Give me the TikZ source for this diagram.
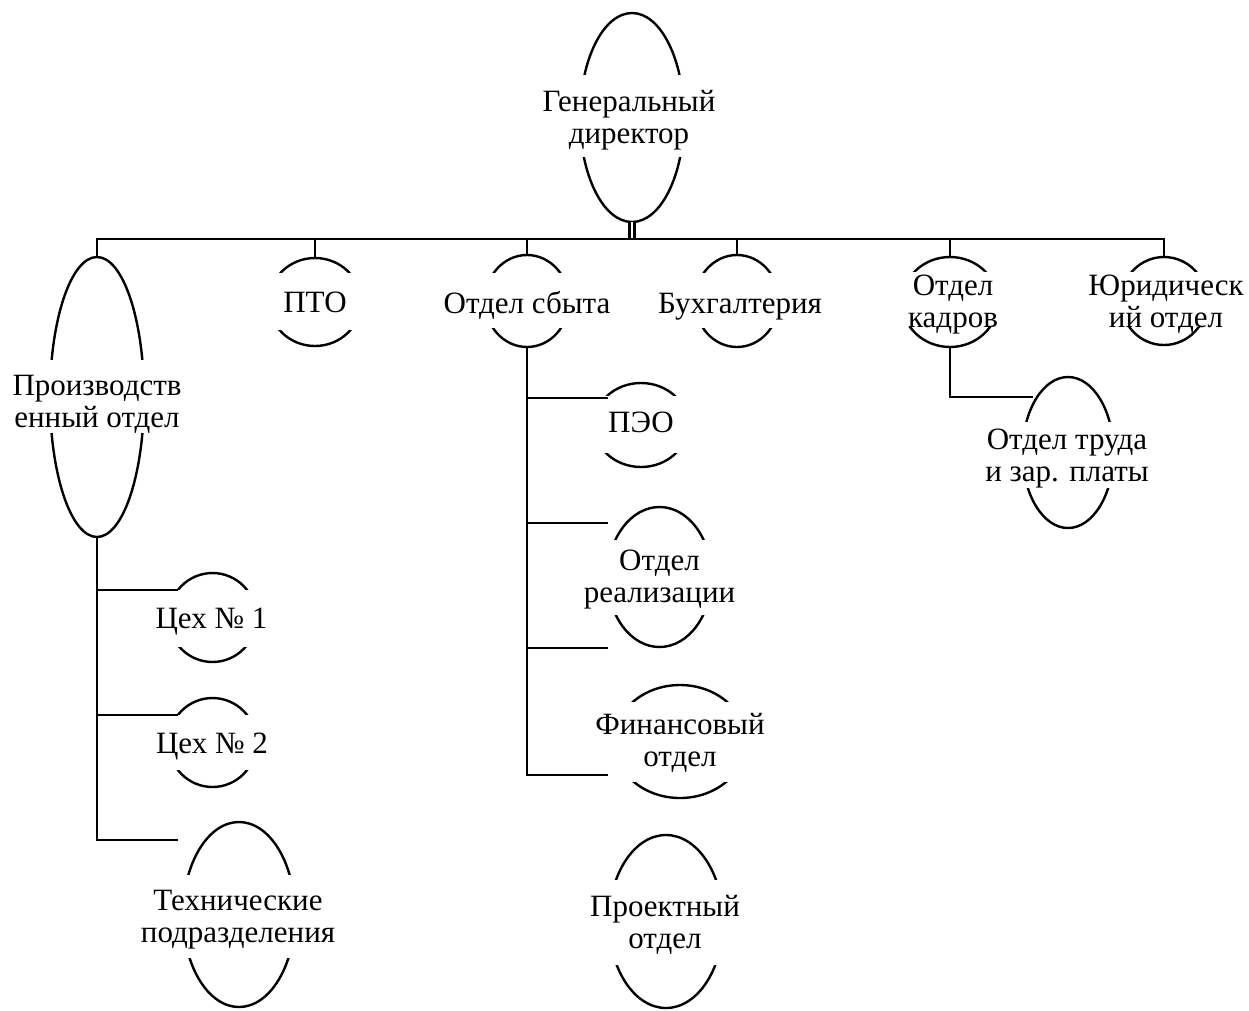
\documentclass[tikz,border=0pt]{standalone}
\usepackage{fontspec}
\setmainfont{Liberation Serif}
\usetikzlibrary{shapes.geometric}
\tikzset{
  oval/.style={draw, ellipse, line width=2.4pt, inner sep=0pt, outer sep=0pt},
  band/.style={fill=white, inner sep=0pt, outer sep=0pt},
  lbl/.style={align=center, inner sep=0pt, font=\fontsize{31}{32}\selectfont},
  conn/.style={line width=2.8pt},
}
% #1 name, #2 cx, #3 cy, #4 rx, #5 ry, #6 band top, #7 band bottom, #8 text centre, #9 text
\newcommand\orgunit[9]{%
  \node[oval, minimum width={2*#4}, minimum height={2*#5}] (#1) at (#2,#3) {};
  \node[band, minimum width={2*#4+8}, minimum height={#7-#6}] (#1-b) at (#2,{(#6+#7)/2}) {};
  \node[lbl] (#1-t) at (#8) {#9};
}
\begin{document}
\begin{tikzpicture}[x=1pt,y=-1pt]
\useasboundingbox[fill=white] (0,0) rectangle (1249,1010);

\orgunit{gen}{632}{117.5}{52}{104.5}{75}{157}{629,120.6}{\strut Генеральный\\\strut директор}
\orgunit{prod}{97}{397}{47}{140}{360}{433}{97,404.6}{\strut Производств\\\strut енный отдел}
\orgunit{pto}{315}{302}{46}{44}{273}{330}{315,305.6}{\strut ПТО}
\orgunit{sbyt}{527}{301}{42}{46}{273}{328}{527,306.6}{\strut Отдел сбыта}
\orgunit{buh}{737}{301}{42}{46}{273}{328}{740,306.6}{\strut Бухгалтерия}
\orgunit{kadr}{950}{302}{48}{45}{272}{327}{953,304.6}{\strut Отдел\\\strut кадров}
\orgunit{jur}{1164}{301}{43}{44}{272}{327}{1166,304.6}{\strut Юридическ\\\strut ий отдел}
\orgunit{peo}{641}{425}{47}{42}{396}{453}{641,425.6}{\strut ПЭО}
\orgunit{real}{659.5}{577}{52}{70}{540}{615}{659.5,580}{\strut Отдел\\\strut реализации}
\orgunit{fin}{680}{741.5}{66}{56.5}{702}{782}{680,743.6}{\strut Финансовый\\\strut отдел}
\orgunit{proj}{666}{921.5}{57}{86.5}{880}{965}{665,926}{\strut Проектный\\\strut отдел}
\orgunit{trud}{1068}{452.5}{45.5}{75.5}{422}{488}{1067,458.6}{\strut Отдел труда\\\strut и зар. платы}
\orgunit{ceh1}{212.5}{617.5}{44}{44.5}{590}{647}{211.5,621.6}{\strut Цех № 1}
\orgunit{ceh2}{212.5}{742.5}{44}{44.5}{715}{770}{212,746.6}{\strut Цех № 2}
\orgunit{tech}{239}{914.5}{56}{92.5}{875}{958}{238,919.6}{\strut Технические\\\strut подразделения}

% connectors
\coordinate (bus) at (632,239);
\draw[line width=3.2pt, double, double distance=1.6pt] (gen.south) -- (gen.south |- bus);
\draw[conn] (prod.north) -- (prod.north |- bus) -- (jur.north |- bus) -- (jur.north);
\foreach \n in {pto,sbyt,buh,kadr} \draw[conn] (\n.north |- bus) -- (\n.north);

\coordinate (p1) at (178,590);
\coordinate (p2) at (178,715);
\coordinate (p3) at (178,840);
\draw[conn] (prod.south) -- (prod.south |- p3) -- (p3);
\draw[conn] (prod.south |- p1) -- (p1);
\draw[conn] (prod.south |- p2) -- (p2);

\coordinate (s1) at (608,398);
\coordinate (s2) at (608,523);
\coordinate (s3) at (608,648);
\coordinate (s4) at (608,775);
\draw[conn] (sbyt.south) -- (sbyt.south |- s4) -- (s4);
\draw[conn] (sbyt.south |- s1) -- (s1);
\draw[conn] (sbyt.south |- s2) -- (s2);
\draw[conn] (sbyt.south |- s3) -- (s3);

\coordinate (k1) at (1033,397);
\draw[conn] (kadr.south) |- (k1);
\end{tikzpicture}
\end{document}
